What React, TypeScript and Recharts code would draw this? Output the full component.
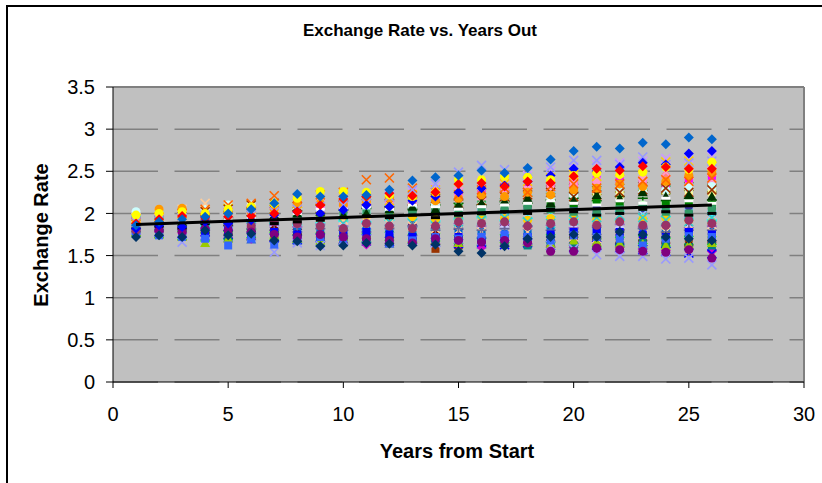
import React from "react";
import { ScatterChart, Scatter, XAxis, YAxis, CartesianGrid, ReferenceLine } from "recharts";

// years 1..26 on the x axis
const YEARS = [1, 2, 3, 4, 5, 6, 7, 8, 9, 10, 11, 12, 13, 14, 15, 16, 17, 18, 19, 20, 21, 22, 23, 24, 25, 26];
const X_TICKS = [0, 5, 10, 15, 20, 25, 30];
const Y_TICKS = [0, 0.5, 1, 1.5, 2, 2.5, 3, 3.5];

// linear trend, read at both ends
const TREND_X = [1, 26];
const TREND_Y = [1.87, 2.1];

// simulated rate paths, one per series
const lilacPath = [1.9, 1.93, 1.97, 2.0, 2.03, 2.06, 2.1, 2.13, 2.16, 2.15, 2.18, 2.22, 2.25, 2.3, 2.34, 2.38, 2.42, 2.45, 2.5, 2.55, 2.58, 2.6, 2.62, 2.65, 2.66, 2.68];
const salmonPath = [1.88, 1.9, 1.94, 1.97, 2.0, 2.02, 2.06, 2.08, 2.1, 2.13, 2.16, 2.18, 2.16, 2.2, 2.24, 2.27, 2.3, 2.28, 2.33, 2.36, 2.38, 2.4, 2.42, 2.44, 2.43, 2.45];
const skyPath = [1.86, 1.88, 1.9, 1.94, 1.96, 2.0, 2.03, 2.06, 2.04, 2.08, 2.1, 2.14, 2.17, 2.2, 2.22, 2.18, 2.22, 2.26, 2.3, 2.28, 2.32, 2.35, 2.33, 2.36, 2.4, 2.38];
const olivePath = [1.87, 1.9, 1.92, 1.95, 1.98, 2.02, 2.05, 2.02, 2.06, 2.1, 2.12, 2.1, 2.14, 2.16, 2.2, 2.24, 2.22, 2.25, 2.28, 2.3, 2.27, 2.3, 2.32, 2.28, 2.32, 2.3];
const paleYellowPath = [1.9, 1.92, 1.95, 1.98, 2.0, 2.03, 2.06, 2.08, 2.1, 2.12, 2.1, 2.14, 2.12, 2.16, 2.18, 2.16, 2.2, 2.22, 2.2, 2.24, 2.26, 2.22, 2.25, 2.28, 2.26, 2.25];
const forestPath = [1.85, 1.87, 1.9, 1.92, 1.95, 1.97, 2.0, 2.03, 2.0, 2.04, 2.06, 2.08, 2.05, 2.1, 2.12, 2.1, 2.14, 2.12, 2.16, 2.18, 2.15, 2.2, 2.18, 2.15, 2.18, 2.16];
const mintPath = [1.84, 1.86, 1.88, 1.9, 1.92, 1.95, 1.93, 1.96, 1.98, 2.0, 2.02, 2.0, 2.04, 2.06, 2.08, 2.05, 2.08, 2.1, 2.07, 2.1, 2.12, 2.08, 2.1, 2.12, 2.1, 2.08];
const indigoPath = [1.83, 1.85, 1.87, 1.89, 1.91, 1.9, 1.93, 1.95, 1.94, 1.97, 1.99, 2.01, 1.98, 2.0, 2.03, 2.05, 2.02, 2.04, 2.06, 2.08, 2.05, 2.03, 2.06, 2.04, 2.05, 2.02];
const paleBluePath = [1.86, 1.84, 1.86, 1.88, 1.9, 1.92, 1.9, 1.93, 1.95, 1.93, 1.96, 1.98, 1.95, 1.97, 1.99, 2.0, 1.97, 1.99, 2.01, 1.98, 2.0, 1.97, 1.99, 2.01, 2.0, 1.98];
const aquaPath = [1.82, 1.84, 1.86, 1.85, 1.88, 1.9, 1.88, 1.86, 1.89, 1.91, 1.9, 1.92, 1.94, 1.91, 1.93, 1.95, 1.92, 1.94, 1.96, 1.93, 1.95, 1.92, 1.94, 1.96, 1.93, 1.92];
const grapePath = [1.83, 1.82, 1.84, 1.86, 1.84, 1.86, 1.88, 1.85, 1.87, 1.89, 1.86, 1.88, 1.9, 1.87, 1.85, 1.87, 1.89, 1.86, 1.84, 1.86, 1.88, 1.85, 1.87, 1.89, 1.86, 1.88];
const periwinklePath = [1.8, 1.81, 1.8, 1.82, 1.84, 1.82, 1.84, 1.86, 1.83, 1.85, 1.83, 1.81, 1.83, 1.86, 1.84, 1.82, 1.84, 1.82, 1.8, 1.83, 1.85, 1.83, 1.81, 1.84, 1.82, 1.82];
const steelPath = [1.79, 1.78, 1.8, 1.78, 1.8, 1.82, 1.79, 1.81, 1.78, 1.8, 1.82, 1.79, 1.77, 1.79, 1.81, 1.78, 1.76, 1.78, 1.8, 1.77, 1.79, 1.76, 1.78, 1.8, 1.78, 1.78];
const rustPath = [1.8, 1.77, 1.75, 1.76, 1.74, 1.72, 1.74, 1.72, 1.7, 1.72, 1.7, 1.68, 1.66, 1.58, 1.62, 1.65, 1.67, 1.7, 1.72, 1.7, 1.68, 1.72, 1.7, 1.73, 1.71, 1.72];
const greenXPath = [1.78, 1.76, 1.74, 1.72, 1.74, 1.76, 1.73, 1.7, 1.72, 1.69, 1.71, 1.73, 1.7, 1.72, 1.69, 1.67, 1.7, 1.68, 1.7, 1.67, 1.65, 1.67, 1.69, 1.66, 1.68, 1.68];
const denimPath = [1.79, 1.77, 1.75, 1.73, 1.71, 1.69, 1.71, 1.68, 1.66, 1.68, 1.66, 1.64, 1.66, 1.68, 1.65, 1.63, 1.65, 1.67, 1.64, 1.66, 1.63, 1.65, 1.62, 1.64, 1.61, 1.6];
const orchidPath = [1.81, 1.79, 1.77, 1.74, 1.72, 1.7, 1.68, 1.7, 1.67, 1.65, 1.63, 1.65, 1.67, 1.64, 1.62, 1.6, 1.62, 1.64, 1.61, 1.6, 1.58, 1.6, 1.58, 1.56, 1.58, 1.55];
const blueXPath = [1.8, 1.78, 1.76, 1.78, 1.75, 1.73, 1.71, 1.69, 1.71, 1.68, 1.7, 1.67, 1.69, 1.66, 1.64, 1.66, 1.63, 1.65, 1.62, 1.6, 1.62, 1.59, 1.57, 1.55, 1.53, 1.52];
const roseXPath = [1.91, 1.94, 1.92, 1.96, 2.0, 2.04, 2.02, 2.07, 2.12, 2.1, 2.15, 2.19, 2.17, 2.22, 2.26, 2.24, 2.3, 2.34, 2.32, 2.38, 2.42, 2.4, 2.45, 2.49, 2.46, 2.5];
const greenPath = [1.85, 1.88, 1.86, 1.89, 1.92, 1.94, 1.97, 1.95, 1.98, 2.01, 2.04, 2.02, 2.06, 2.09, 2.07, 2.11, 2.14, 2.12, 2.09, 2.12, 2.15, 2.11, 2.08, 2.12, 2.14, 2.1];
const amberPath = [1.89, 1.91, 1.9, 1.93, 1.95, 1.94, 1.97, 1.99, 1.97, 1.94, 1.96, 1.98, 1.96, 1.93, 1.95, 1.97, 1.94, 1.92, 1.94, 1.96, 1.93, 1.91, 1.93, 1.95, 1.92, 1.9];
const violetPath = [1.81, 1.83, 1.85, 1.83, 1.86, 1.88, 1.86, 1.84, 1.87, 1.85, 1.88, 1.86, 1.84, 1.86, 1.88, 1.85, 1.87, 1.84, 1.86, 1.83, 1.85, 1.87, 1.84, 1.86, 1.83, 1.85];
const magentaPath = [1.92, 1.9, 1.95, 1.98, 2.05, 2.05, 2.08, 2.1, 2.05, 2.08, 2.12, 2.15, 2.1, 2.12, 2.2, 2.22, 2.25, 2.3, 2.32, 2.35, 2.4, 2.38, 2.35, 2.32, 2.38, 2.4];
const pinkPath = [1.88, 1.9, 1.92, 1.95, 1.93, 1.98, 2.0, 1.98, 2.02, 2.05, 2.08, 2.12, 2.1, 2.15, 2.18, 2.2, 2.25, 2.28, 2.3, 2.35, 2.38, 2.35, 2.4, 2.38, 2.32, 2.35];
const cyanPath = [2.02, 1.98, 1.95, 2.05, 2.1, 2.1, 2.08, 2.05, 2.0, 1.98, 2.02, 2.05, 2.08, 2.1, 2.05, 2.1, 2.15, 2.18, 2.2, 2.22, 2.28, 2.3, 2.25, 2.28, 2.3, 2.32];
const maroonPath = [1.84, 1.8, 1.82, 1.78, 1.75, 1.78, 1.8, 1.75, 1.72, 1.7, 1.72, 1.68, 1.72, 1.75, 1.72, 1.7, 1.68, 1.64, 1.68, 1.72, 1.7, 1.66, 1.68, 1.65, 1.62, 1.66];
const goldPath = [1.94, 1.96, 1.99, 2.03, 2.06, 2.1, 2.05, 2.12, 2.15, 2.2, 2.18, 2.15, 2.22, 2.28, 2.3, 2.26, 2.35, 2.38, 2.42, 2.46, 2.44, 2.5, 2.55, 2.61, 2.62, 2.56];
const peachPath = [1.95, 2.0, 2.05, 2.12, 2.1, 2.05, 2.02, 1.98, 1.95, 1.92, 1.9, 1.88, 1.85, 1.82, 1.8, 1.78, 1.75, 1.78, 1.75, 1.72, 1.7, 1.72, 1.75, 1.78, 1.8, 1.78];
const turquoisePath = [1.92, 1.9, 1.88, 1.92, 1.95, 1.98, 1.95, 1.92, 1.9, 1.88, 1.85, 1.9, 1.88, 1.85, 1.9, 1.92, 1.95, 1.9, 1.88, 1.92, 1.95, 1.98, 1.95, 1.92, 1.9, 1.95];
const slatePath = [1.78, 1.8, 1.82, 1.8, 1.85, 1.82, 1.8, 1.78, 1.82, 1.8, 1.78, 1.82, 1.85, 1.8, 1.82, 1.8, 1.82, 1.85, 1.8, 1.78, 1.75, 1.8, 1.82, 1.78, 1.8, 1.8];
const tealPath = [1.82, 1.8, 1.78, 1.75, 1.72, 1.75, 1.72, 1.7, 1.68, 1.65, 1.68, 1.7, 1.72, 1.68, 1.65, 1.68, 1.65, 1.62, 1.65, 1.62, 1.6, 1.62, 1.65, 1.62, 1.6, 1.62];
const limePath = [1.78, 1.75, 1.72, 1.65, 1.7, 1.72, 1.75, 1.7, 1.68, 1.72, 1.75, 1.72, 1.7, 1.68, 1.65, 1.68, 1.7, 1.66, 1.64, 1.68, 1.66, 1.64, 1.64, 1.62, 1.63, 1.65];
const seaGreenPath = [1.8, 1.82, 1.85, 1.88, 1.86, 1.9, 1.92, 1.9, 1.95, 1.98, 2.0, 1.98, 2.02, 2.05, 2.0, 2.02, 2.05, 2.08, 2.05, 2.02, 2.0, 2.05, 2.08, 2.02, 2.0, 2.05];
const brownPath = [1.9, 1.92, 1.96, 2.02, 2.05, 2.1, 2.12, 2.08, 2.05, 2.1, 2.15, 2.12, 2.15, 2.18, 2.12, 2.15, 2.2, 2.22, 2.25, 2.2, 2.22, 2.25, 2.28, 2.3, 2.25, 2.28];
const darkGreenPath = [1.86, 1.88, 1.9, 1.92, 1.9, 1.95, 1.98, 2.0, 2.02, 1.98, 2.0, 2.05, 2.08, 2.05, 2.1, 2.12, 2.15, 2.18, 2.12, 2.15, 2.22, 2.18, 2.25, 2.2, 2.22, 2.2];
const orangePath = [1.92, 2.05, 2.06, 1.98, 2.0, 2.02, 2.05, 2.1, 2.12, 2.1, 2.15, 2.18, 2.2, 2.15, 2.18, 2.22, 2.2, 2.25, 2.22, 2.28, 2.3, 2.35, 2.32, 2.38, 2.45, 2.48];
const orangeXPath = [1.9, 1.95, 2.0, 2.05, 2.1, 2.12, 2.21, 2.18, 2.22, 2.25, 2.4, 2.42, 2.3, 2.25, 2.22, 2.28, 2.3, 2.25, 2.32, 2.35, 2.3, 2.35, 2.38, 2.4, 2.38, 2.42];
const lavenderHighPath = [1.9, 1.92, 1.95, 1.98, 2.0, 1.98, 2.02, 2.05, 2.08, 2.1, 2.12, 2.2, 2.28, 2.35, 2.49, 2.57, 2.52, 2.5, 2.55, 2.63, 2.63, 2.58, 2.67, 2.58, 2.6, 2.62];
const lavenderLowPath = [1.8, 1.78, 1.66, 1.75, 1.78, 1.72, 1.54, 1.65, 1.62, 1.68, 1.7, 1.72, 1.68, 1.65, 1.7, 1.68, 1.72, 1.68, 1.62, 1.58, 1.51, 1.49, 1.49, 1.46, 1.47, 1.39];
const royalPath = [1.8, 1.78, 1.75, 1.78, 1.8, 1.76, 1.78, 1.75, 1.72, 1.75, 1.78, 1.75, 1.72, 1.7, 1.72, 1.68, 1.7, 1.72, 1.75, 1.78, 1.8, 1.78, 1.75, 1.72, 1.78, 1.75];
const cornflowerPath = [1.76, 1.74, 1.72, 1.7, 1.62, 1.7, 1.63, 1.68, 1.72, 1.7, 1.68, 1.65, 1.68, 1.72, 1.7, 1.72, 1.75, 1.72, 1.68, 1.74, 1.72, 1.7, 1.62, 1.7, 1.73, 1.72];
const plumPath = [1.8, 1.85, 1.82, 1.92, 1.88, 1.85, 1.9, 1.88, 1.85, 1.82, 1.88, 1.85, 1.82, 1.85, 1.9, 1.88, 1.9, 1.85, 1.88, 1.9, 1.86, 1.9, 1.86, 1.86, 1.92, 1.88];
const purplePath = [1.85, 1.8, 1.78, 1.82, 1.8, 1.78, 1.75, 1.72, 1.75, 1.72, 1.7, 1.68, 1.65, 1.7, 1.68, 1.66, 1.68, 1.65, 1.55, 1.55, 1.59, 1.57, 1.55, 1.54, 1.57, 1.47];
const navyPath = [1.72, 1.74, 1.72, 1.8, 1.74, 1.76, 1.68, 1.67, 1.61, 1.62, 1.65, 1.64, 1.62, 1.63, 1.55, 1.53, 1.61, 1.7, 1.72, 1.75, 1.72, 1.78, 1.75, 1.72, 1.7, 1.68];
const blackPath = [1.84, 1.85, 1.83, 1.88, 1.9, 1.92, 1.88, 1.9, 1.92, 1.95, 1.97, 1.95, 1.98, 1.95, 1.98, 2.0, 2.02, 2.0, 2.05, 2.02, 1.98, 2.0, 2.05, 2.02, 1.98, 2.0];
const whitePath = [1.85, 1.87, 1.92, 1.9, 1.92, 1.95, 1.98, 2.0, 2.05, 2.05, 2.08, 2.05, 2.1, 2.08, 2.05, 2.08, 2.1, 2.12, 2.15, 2.12, 2.1, 2.15, 2.12, 2.18, 2.15, 2.12];
const brightBluePath = [1.82, 1.86, 1.84, 1.9, 1.88, 1.92, 1.98, 2.02, 2.0, 2.04, 2.1, 2.08, 2.15, 2.2, 2.25, 2.3, 2.33, 2.38, 2.45, 2.53, 2.5, 2.55, 2.6, 2.58, 2.71, 2.74];
const yellowPath = [1.98, 2.0, 2.02, 2.0, 2.05, 2.08, 2.12, 2.18, 2.26, 2.26, 2.25, 2.22, 2.2, 2.25, 2.4, 2.4, 2.44, 2.43, 2.4, 2.45, 2.48, 2.46, 2.49, 2.55, 2.52, 2.61];
const redPath = [1.88, 1.93, 1.97, 1.95, 1.96, 1.97, 2.0, 2.02, 2.1, 2.17, 2.2, 2.24, 2.21, 2.25, 2.35, 2.36, 2.32, 2.38, 2.36, 2.44, 2.53, 2.51, 2.56, 2.55, 2.53, 2.53];
const topBluePath = [1.86, 1.9, 1.93, 1.96, 2.0, 2.05, 2.12, 2.23, 2.2, 2.2, 2.22, 2.28, 2.39, 2.43, 2.45, 2.51, 2.48, 2.54, 2.64, 2.74, 2.79, 2.77, 2.84, 2.82, 2.9, 2.88];

type MarkerKind = "diamond" | "square" | "circle" | "triangle" | "x" | "plus" | "dash";

// draw order: first ones end up underneath
const SERIES: { name: string; values: number[]; color: string; marker: MarkerKind }[] = [
  { name: "s1", values: lilacPath, color: "#CC99FF", marker: "x" },
  { name: "s2", values: salmonPath, color: "#FF8080", marker: "circle" },
  { name: "s3", values: skyPath, color: "#00CCFF", marker: "triangle" },
  { name: "s4", values: olivePath, color: "#808000", marker: "x" },
  { name: "s5", values: paleYellowPath, color: "#FFFF99", marker: "square" },
  { name: "s6", values: forestPath, color: "#006600", marker: "plus" },
  { name: "s7", values: mintPath, color: "#CCFFCC", marker: "circle" },
  { name: "s8", values: indigoPath, color: "#333399", marker: "square" },
  { name: "s9", values: paleBluePath, color: "#99CCFF", marker: "x" },
  { name: "s10", values: aquaPath, color: "#00FFFF", marker: "plus" },
  { name: "s11", values: grapePath, color: "#660066", marker: "triangle" },
  { name: "s12", values: periwinklePath, color: "#CCCCFF", marker: "diamond" },
  { name: "s13", values: steelPath, color: "#0066CC", marker: "square" },
  { name: "s14", values: rustPath, color: "#993300", marker: "square" },
  { name: "s15", values: greenXPath, color: "#00FF00", marker: "x" },
  { name: "s16", values: denimPath, color: "#3366CC", marker: "triangle" },
  { name: "s17", values: orchidPath, color: "#CC00CC", marker: "diamond" },
  { name: "s18", values: blueXPath, color: "#0000FF", marker: "x" },
  { name: "s19", values: roseXPath, color: "#FF99CC", marker: "x" },
  { name: "s20", values: greenPath, color: "#008000", marker: "square" },
  { name: "s21", values: amberPath, color: "#FFCC00", marker: "circle" },
  { name: "s22", values: violetPath, color: "#9966CC", marker: "plus" },
  { name: "s23", values: magentaPath, color: "#FF00FF", marker: "square" },
  { name: "s24", values: pinkPath, color: "#FF99CC", marker: "square" },
  { name: "s25", values: cyanPath, color: "#CCFFFF", marker: "circle" },
  { name: "s26", values: maroonPath, color: "#800000", marker: "circle" },
  { name: "s27", values: goldPath, color: "#FFCC00", marker: "x" },
  { name: "s28", values: peachPath, color: "#FFCC99", marker: "x" },
  { name: "s29", values: turquoisePath, color: "#33CCCC", marker: "x" },
  { name: "s30", values: slatePath, color: "#666699", marker: "plus" },
  { name: "s31", values: tealPath, color: "#008080", marker: "square" },
  { name: "s32", values: limePath, color: "#99CC00", marker: "triangle" },
  { name: "s33", values: seaGreenPath, color: "#339966", marker: "square" },
  { name: "s34", values: brownPath, color: "#993300", marker: "x" },
  { name: "s35", values: darkGreenPath, color: "#003300", marker: "triangle" },
  { name: "s36", values: orangePath, color: "#FF9900", marker: "circle" },
  { name: "s37", values: orangeXPath, color: "#FF6600", marker: "x" },
  { name: "s38", values: lavenderHighPath, color: "#9999FF", marker: "x" },
  { name: "s39", values: lavenderLowPath, color: "#9999FF", marker: "x" },
  { name: "s40", values: royalPath, color: "#0000FF", marker: "square" },
  { name: "s41", values: cornflowerPath, color: "#3366FF", marker: "square" },
  { name: "s42", values: plumPath, color: "#993366", marker: "circle" },
  { name: "s43", values: purplePath, color: "#800080", marker: "circle" },
  { name: "s44", values: navyPath, color: "#003366", marker: "diamond" },
  { name: "s45", values: blackPath, color: "#000000", marker: "dash" },
  { name: "s46", values: whitePath, color: "#FFFFFF", marker: "dash" },
  { name: "s47", values: brightBluePath, color: "#0000FF", marker: "diamond" },
  { name: "s48", values: yellowPath, color: "#FFFF00", marker: "circle" },
  { name: "s49", values: redPath, color: "#FF0000", marker: "diamond" },
  { name: "s50", values: topBluePath, color: "#0066CC", marker: "diamond" },
];

const FONT = "'Liberation Sans', Arial, sans-serif";

function Marker({ cx, cy, color, kind }: { cx?: number; cy?: number; color: string; kind: MarkerKind }) {
  if (cx == null || cy == null) return null;
  switch (kind) {
    case "diamond":
      return <polygon points={`${cx},${cy - 5} ${cx + 5},${cy} ${cx},${cy + 5} ${cx - 5},${cy}`} fill={color} />;
    case "square":
      return <rect x={cx - 4} y={cy - 4} width={8} height={8} fill={color} />;
    case "circle":
      return <circle cx={cx} cy={cy} r={4.5} fill={color} />;
    case "triangle":
      return <polygon points={`${cx},${cy - 5} ${cx + 5},${cy + 4} ${cx - 5},${cy + 4}`} fill={color} />;
    case "x":
      return (
        <path
          d={`M${cx - 4.5},${cy - 4.5}L${cx + 4.5},${cy + 4.5}M${cx - 4.5},${cy + 4.5}L${cx + 4.5},${cy - 4.5}`}
          stroke={color}
          strokeWidth={1.6}
        />
      );
    case "plus":
      return <path d={`M${cx - 5},${cy}L${cx + 5},${cy}M${cx},${cy - 5}L${cx},${cy + 5}`} stroke={color} strokeWidth={1.6} />;
    case "dash":
      return <rect x={cx - 4.5} y={cy - 1.5} width={9} height={3} fill={color} />;
  }
  return null;
}

export default function App() {
  const trend = TREND_X.map((x, i) => ({ x, y: TREND_Y[i] }));

  return (
    <div style={{ position: "absolute", left: 0, top: 0, width: 822, height: 483, overflow: "hidden", background: "#fff" }}>
      <div
        style={{
          position: "absolute",
          left: 6,
          top: 5,
          width: 900,
          height: 600,
          borderLeft: "2px solid #000",
          borderTop: "2px solid #000",
        }}
      />
      <div style={{ position: "absolute", left: 0, top: 0 }}>
        <ScatterChart width={822} height={483} margin={{ top: 87, right: 18, bottom: 61, left: 40 }}>
          <CartesianGrid
            vertical={false}
            fill="#C0C0C0"
            fillOpacity={1}
            stroke="#808080"
            strokeWidth={1.5}
            strokeDasharray="45 16.5"
          />
          <XAxis
            type="number"
            dataKey="x"
            domain={[0, 30]}
            ticks={X_TICKS}
            height={40}
            tickSize={6}
            tickMargin={19}
            axisLine={{ stroke: "#000" }}
            tickLine={{ stroke: "#000" }}
            tick={{ fill: "#000", fontSize: 20, fontFamily: FONT }}
          />
          <YAxis
            type="number"
            dataKey="y"
            domain={[0, 3.5]}
            ticks={Y_TICKS}
            width={73}
            tickSize={7}
            tickMargin={11}
            axisLine={{ stroke: "#000" }}
            tickLine={{ stroke: "#000" }}
            tick={{ fill: "#000", fontSize: 20, fontFamily: FONT }}
          />
          <ReferenceLine y={3.5} stroke="#808080" strokeWidth={2} />
          <ReferenceLine x={30} stroke="#808080" strokeWidth={2} />
          {SERIES.map((s) => (
            <Scatter
              key={s.name}
              name={s.name}
              data={YEARS.map((x, i) => ({ x, y: s.values[i] }))}
              isAnimationActive={false}
              shape={(p: any) => <Marker cx={p.cx} cy={p.cy} color={s.color} kind={s.marker} />}
            />
          ))}
          <Scatter
            name="trend"
            data={trend}
            isAnimationActive={false}
            line={{ stroke: "#000", strokeWidth: 3 }}
            shape={() => <g />}
          />
        </ScatterChart>
      </div>
      <svg width={822} height={483} style={{ position: "absolute", left: 0, top: 0, pointerEvents: "none" }}>
        <text x={420} y={30} textAnchor="middle" dominantBaseline="central" fontFamily={FONT} fontWeight="bold" fontSize={17}>
          Exchange Rate vs. Years Out
        </text>
        <text
          x={41}
          y={235}
          transform="rotate(-90 41 235)"
          textAnchor="middle"
          dominantBaseline="central"
          fontFamily={FONT}
          fontWeight="bold"
          fontSize={20}
        >
          Exchange Rate
        </text>
        <text x={457} y={451} textAnchor="middle" dominantBaseline="central" fontFamily={FONT} fontWeight="bold" fontSize={20}>
          Years from Start
        </text>
      </svg>
    </div>
  );
}
